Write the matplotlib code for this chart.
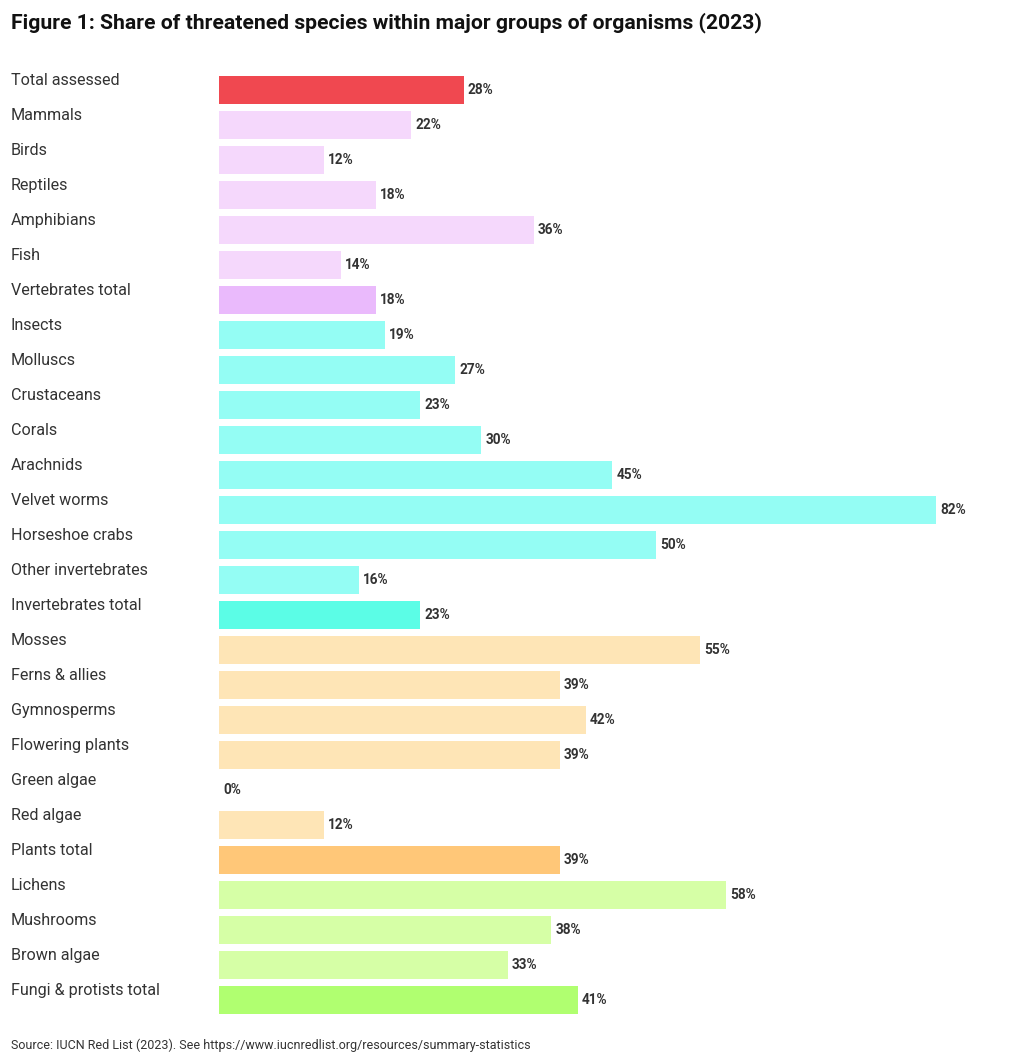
import matplotlib
matplotlib.use("Agg")
import matplotlib.pyplot as plt
import matplotlib.transforms as mtransforms

categories = ["Total assessed", "Mammals", "Birds", "Reptiles", "Amphibians", "Fish",
              "Vertebrates total", "Insects", "Molluscs", "Crustaceans", "Corals",
              "Arachnids", "Velvet worms", "Horseshoe crabs", "Other invertebrates",
              "Invertebrates total", "Mosses", "Ferns & allies", "Gymnosperms",
              "Flowering plants", "Green algae", "Red algae", "Plants total",
              "Lichens", "Mushrooms", "Brown algae", "Fungi & protists total"]
values = [28, 22, 12, 18, 36, 14, 18, 19, 27, 23, 30, 45, 82, 50, 16, 23,
          55, 39, 42, 39, 0, 12, 39, 58, 38, 33, 41]
colors = ["#F04850"] + ["#F5D8FC"] * 5 + ["#EABAFC"] + ["#94FDF4"] * 8 + ["#5BFDE6"] \
         + ["#FEE5B6"] * 6 + ["#FFC778"] + ["#D6FFA6"] * 3 + ["#B0FF70"]

title = "Figure 1: Share of threatened species within major groups of organisms (2023)"
source = "Source: IUCN Red List (2023). See https://www.iucnredlist.org/resources/summary-statistics"

FAM = ["Roboto", "DejaVu Sans"]
plt.rcParams["font.family"] = FAM

W, H = 1020, 1064
fig = plt.figure(figsize=(W / 100, H / 100), dpi=100)
left_px, right_px = 219, 1000
top_px, bot_px = 72.5, 1017.5
ax = fig.add_axes([left_px / W, 1 - bot_px / H, (right_px - left_px) / W, (bot_px - top_px) / H])
px_per_pct = (936 - 219) / 82
ax.set_xlim(0, (right_px - left_px) / px_per_pct)
n = len(categories)
ax.set_ylim(n - 0.5, -0.5)
ypos = list(range(n))
ax.barh(ypos, values, height=0.8, color=colors)
for y, v in zip(ypos, values):
    ax.text(v + 0.45, y, f"{v}%", va="center", ha="left", fontsize=9.8,
            fontweight="bold", color="#333333")
trans = mtransforms.blended_transform_factory(fig.transFigure, ax.transData)
for y, c in zip(ypos, categories):
    ax.text(11 / W, y - 0.28, c, transform=trans, ha="left", va="center",
            fontsize=11.6, color="#333333")
ax.axis("off")

fig.text(11 / W, 1 - 23 / H, title, ha="left", va="center", fontsize=15.2,
         fontweight="bold", color="#111111")
fig.text(11 / W, 1 - 1045 / H, source, ha="left", va="center", fontsize=9,
         color="#333333")
fig.savefig("out.png", dpi=100, facecolor="white")
